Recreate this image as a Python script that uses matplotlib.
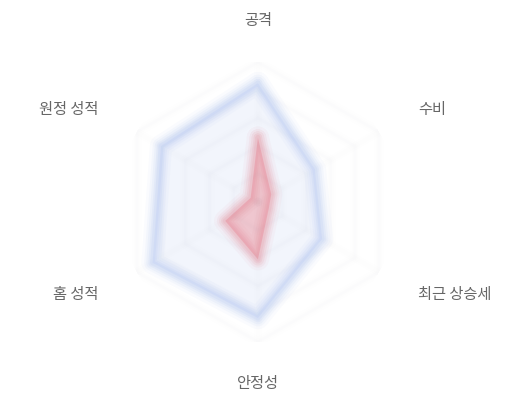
import numpy as np
import matplotlib
matplotlib.use("Agg")
import matplotlib.pyplot as plt

plt.rcParams['font.family'] = ['Noto Sans CJK KR', 'DejaVu Sans']

categories = ['공격', '수비', '최근 상승세', '안정성', '홈 성적', '원정 성적']
series_blue = [85, 47, 53, 83, 87, 80]
series_red = [46, 11, 9, 41, 27, 6]
grid_levels = [20, 40, 60, 80, 100]

n = len(categories)
angles = np.linspace(0, 2 * np.pi, n, endpoint=False)
closed = np.append(angles, angles[0])

fig = plt.figure(figsize=(5.2, 4.0), dpi=100)
ax = fig.add_axes([0.227, 0.145, 0.538, 0.70], projection='polar')
ax.set_theta_offset(np.pi / 2)
ax.set_theta_direction(-1)
ax.set_ylim(0, 100)
ax.set_xticks([])
ax.set_yticks([])
ax.grid(False)
ax.spines['polar'].set_visible(False)
ax.patch.set_alpha(0)

# blurred hexagonal grid (very faint)
for lv in grid_levels:
    for lw, a in [(7, 0.006), (4, 0.008), (2, 0.01)]:
        ax.plot(closed, [lv] * (n + 1), color='#8a9ab8', lw=lw, alpha=a,
                solid_joinstyle='round')
for ang in angles:
    for lw, a in [(6, 0.005), (3, 0.008)]:
        ax.plot([ang, ang], [0, 100], color='#8a9ab8', lw=lw, alpha=a)


def blurred_series(vals, line_color, fill_color, fill_alpha, widths):
    v = np.append(vals, vals[0])
    ax.fill(closed, v, color=fill_color, alpha=fill_alpha, lw=0)
    for lw, a in widths:
        ax.plot(closed, v, color=line_color, lw=lw, alpha=a,
                solid_joinstyle='round', solid_capstyle='round')


blurred_series(series_blue, '#9db6ee', '#e3eafa', 0.45,
               [(16, 0.05), (12, 0.07), (9, 0.09), (6, 0.11), (3.5, 0.12)])
blurred_series(series_red, '#e58a98', '#eda8b2', 0.6,
               [(16, 0.06), (12, 0.09), (9, 0.12), (6, 0.15), (3.5, 0.15)])

for i, (ang, lab) in enumerate(zip(angles, categories)):
    deg = np.degrees(ang) % 360
    if i == 0:
        ha, va, r = 'center', 'bottom', 124
    elif i == 3:
        ha, va, r = 'center', 'top', 124
    elif deg < 180:
        ha, va, r = 'left', 'center', 132
    else:
        ha, va, r = 'right', 'center', 132
    ax.text(ang, r, lab, ha=ha, va=va, fontsize=11, color='#666666',
            clip_on=False)

fig.savefig('out.png', dpi=100, facecolor='white')
